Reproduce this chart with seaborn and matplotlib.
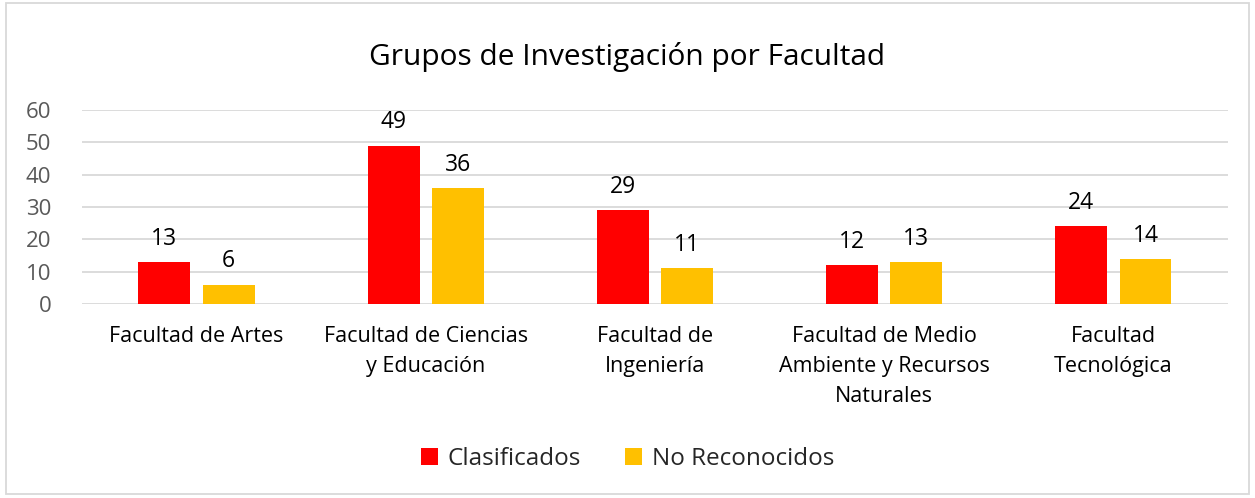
import pandas as pd
import matplotlib.pyplot as plt
import seaborn as sns
from matplotlib.patches import Rectangle

# Datos
facultades = ["Facultad de Artes", "Facultad de Ciencias\ny Educación",
              "Facultad de\nIngeniería", "Facultad de Medio\nAmbiente y Recursos\nNaturales",
              "Facultad\nTecnológica"]
clasificados = [13, 49, 29, 12, 24]
no_reconocidos = [6, 36, 11, 13, 14]
series = ["Clasificados", "No Reconocidos"]
colores = ["#FF0000", "#FFC000"]

df = pd.DataFrame({
    "Facultad": facultades * 2,
    "Grupo": [series[0]] * len(facultades) + [series[1]] * len(facultades),
    "Valor": clasificados + no_reconocidos,
})

sns.set_style("white")
plt.rcParams["font.family"] = ["Open Sans", "DejaVu Sans"]

fig = plt.figure(figsize=(12.55, 4.98), dpi=100)
ax = fig.add_axes([0.0653, 0.3896, 0.9132, 0.3894])

sns.barplot(data=df, x="Facultad", y="Valor", hue="Grupo", palette=colores,
            saturation=1, linewidth=0, width=0.56, gap=0.19, ax=ax, legend=True)

for c in ax.containers:
    ax.bar_label(c, padding=8, fontsize=16.5, color="#000000")

ax.set_ylim(0, 60)
ax.set_yticks(range(0, 61, 10))
ax.yaxis.grid(True, color="#D9D9D9", linewidth=1.3)
ax.set_axisbelow(True)
for s in ax.spines.values():
    s.set_visible(False)
ax.set_xlabel("")
ax.set_ylabel("")
ax.tick_params(axis="y", labelsize=16, labelcolor="#595959", length=0, pad=22)
ax.tick_params(axis="x", labelsize=15.5, labelcolor="#000000", length=0, pad=16)
for lbl in ax.get_xticklabels():
    lbl.set_linespacing(1.55)

fig.suptitle("Grupos de Investigación por Facultad", y=0.915, fontsize=21.5, color="#000000")

h, l = ax.get_legend_handles_labels()
ax.legend(h, l, loc="center", bbox_to_anchor=(0.5, 0.078), bbox_transform=fig.transFigure,
          ncol=2, frameon=False, fontsize=17.5, handlelength=0.7, handleheight=0.7,
          columnspacing=1.8, handletextpad=0.4)

fig.patches.append(Rectangle((0.005, 0.008), 0.99, 0.985, transform=fig.transFigure,
                             fill=False, edgecolor="#D9D9D9", linewidth=1.3))

fig.savefig("out.png", dpi=100)
